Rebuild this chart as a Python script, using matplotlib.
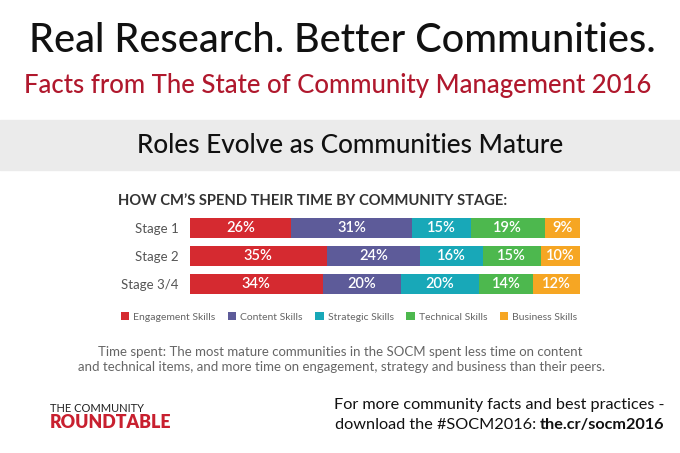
import matplotlib.pyplot as plt
import numpy as np

# Data
stages = ['Stage 1', 'Stage 2', 'Stage 3/4']
skills = ['Engagement Skills', 'Content Skills', 'Strategic Skills',
          'Technical Skills', 'Business Skills']
engagement = [26, 35, 34]
content = [31, 24, 20]
strategic = [15, 16, 20]
technical = [19, 15, 14]
business = [9, 10, 12]
colors = ['#d52a30', '#5d5b99', '#18a8b8', '#4db84e', '#f6a623']

plt.rcParams['font.family'] = ['Lato', 'DejaVu Sans']

fig = plt.figure(figsize=(6.8, 4.53), dpi=100)
W, H = 680, 453


def fx(x):
    return x / W


def fy(y):
    return 1 - y / H


# Headers
fig.text(fx(342), fy(40), 'Real Research. Better Communities.', ha='center', va='center',
         fontsize=28.5, fontweight='medium', color='#111111')
fig.text(fx(338), fy(86), 'Facts from The State of Community Management 2016', ha='center',
         va='center', fontsize=18.5, fontweight='medium', color='#b0182d')

# Gray band
band = plt.Rectangle((0, fy(170)), 1, (170 - 120) / H, transform=fig.transFigure,
                     color='#ebebeb', zorder=0)
fig.patches.append(band)
fig.text(fx(350), fy(145), 'Roles Evolve as Communities Mature', ha='center', va='center',
         fontsize=18.8, fontweight='medium', color='#111111')

fig.text(fx(118), fy(201), 'HOW CM\u2019S SPEND THEIR TIME BY COMMUNITY STAGE:', ha='left',
         va='center', fontsize=10.6, fontweight='bold', color='#333333')

# Bar chart
ax = fig.add_axes([fx(190), fy(298), fx(390), 84 / H])
series = [engagement, content, strategic, technical, business]
y = np.arange(len(stages))
left = np.zeros(len(stages))
for name, vals, c in zip(skills, series, colors):
    vals = np.array(vals)
    ax.barh(y, vals, left=left, height=0.72, color=c, label=name)
    for yi, l, v in zip(y, left, vals):
        ax.text(l + v / 2, yi, f'{v}%', ha='center', va='center', color='white',
                fontsize=10.5, fontweight='semibold')
    left += vals
ax.set_xlim(0, 100)
ax.set_ylim(2.5, -0.5)
ax.set_yticks(y)
ax.set_yticklabels(stages, fontsize=9.5, color='#555555')
ax.tick_params(axis='y', length=0, pad=8)
ax.set_xticks([])
for s in ax.spines.values():
    s.set_visible(False)

# Legend
leg = fig.legend(loc='center', bbox_to_anchor=(fx(349), fy(317)), ncol=5, frameon=False,
                 fontsize=7.5, handlelength=0.8, handleheight=0.8, handletextpad=0.4,
                 columnspacing=1.2, labelcolor='#666666')

# Note
fig.text(fx(340), fy(352), 'Time spent: The most mature communities in the SOCM spent less time on content',
         ha='center', va='center', fontsize=9.5, color='#666666')
fig.text(fx(341), fy(367), 'and technical items, and more time on engagement, strategy and business than their peers.',
         ha='center', va='center', fontsize=9.5, color='#666666')

# Footer logo text
fig.text(fx(50), fy(408), 'THE COMMUNITY', ha='left', va='center', fontsize=8, color='#222222')
fig.text(fx(50), fy(422), 'ROUNDTABLE', ha='left', va='center', fontsize=12.8,
         fontweight='heavy', color='#c8202f')

# Footer right
fig.text(fx(664), fy(405), 'For more community facts and best practices -', ha='right',
         va='center', fontsize=11.7, color='#111111')
t2 = fig.text(fx(664), fy(425), 'the.cr/socm2016', ha='right', va='center', fontsize=11.7,
              fontweight='bold', color='#111111')
fig.canvas.draw()
bb = t2.get_window_extent()
fig.text(bb.x0 / W - 0.005, fy(425), 'download the #SOCM2016:', ha='right', va='center',
         fontsize=11.7, color='#111111')

fig.savefig('out.png', dpi=100)
